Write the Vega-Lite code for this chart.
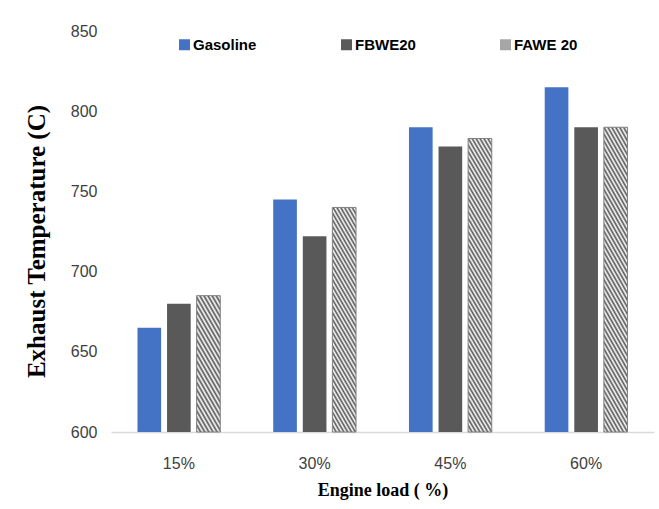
{
  "$schema": "https://vega.github.io/schema/vega-lite/v6.json",
  "width": 543,
  "height": 401,
  "autosize": {"type": "none"},
  "padding": {"left": 111, "top": 31, "right": 5, "bottom": 77},
  "background": "white",
  "data": {
    "values": [
      {"load": "15%", "fuel": "Gasoline", "temp": 665},
      {"load": "15%", "fuel": "FBWE20", "temp": 680},
      {"load": "15%", "fuel": "FAWE 20", "temp": 685},
      {"load": "30%", "fuel": "Gasoline", "temp": 745},
      {"load": "30%", "fuel": "FBWE20", "temp": 722},
      {"load": "30%", "fuel": "FAWE 20", "temp": 740},
      {"load": "45%", "fuel": "Gasoline", "temp": 790},
      {"load": "45%", "fuel": "FBWE20", "temp": 778},
      {"load": "45%", "fuel": "FAWE 20", "temp": 783},
      {"load": "60%", "fuel": "Gasoline", "temp": 815},
      {"load": "60%", "fuel": "FBWE20", "temp": 790},
      {"load": "60%", "fuel": "FAWE 20", "temp": 790}
    ]
  },
  "encoding": {
    "x": {
      "field": "load",
      "type": "nominal",
      "sort": ["15%", "30%", "45%", "60%"],
      "scale": {"paddingInner": 0.39, "paddingOuter": 0.195},
      "axis": {
        "title": "Engine load ( %)",
        "labelAngle": 0,
        "ticks": false,
        "domainColor": "#D9D9D9",
        "domainWidth": 1.5,
        "labelFont": "Liberation Sans Narrow, Liberation Sans, sans-serif",
        "labelFontSize": 16,
        "labelColor": "#404040",
        "labelPadding": 23,
        "titleFont": "Liberation Serif",
        "titleFontSize": 18,
        "titleFontWeight": "bold",
        "titleColor": "#000000",
        "titleY": 58,
        "titleBaseline": "middle"
      }
    },
    "xOffset": {
      "field": "fuel",
      "type": "nominal",
      "scale": {"domain": ["Gasoline", "FBWE20", "FAWE 20"], "paddingInner": 0.2, "paddingOuter": 0}
    },
    "y": {
      "field": "temp",
      "type": "quantitative",
      "scale": {"domain": [600, 850], "zero": false, "nice": false},
      "axis": {
        "title": "Exhaust Temperature (C)",
        "values": [600, 650, 700, 750, 800, 850],
        "grid": false,
        "domain": false,
        "ticks": false,
        "labelFont": "Liberation Sans Narrow, Liberation Sans, sans-serif",
        "labelFontSize": 16,
        "labelColor": "#404040",
        "labelPadding": 14,
        "titleFont": "Liberation Serif",
        "titleFontSize": 25,
        "titleFontWeight": "bold",
        "titleColor": "#000000",
        "titleX": -75,
        "titleY": 210,
        "titleBaseline": "middle",
        "titleAlign": "center"
      }
    },
    "y2": {"datum": 600}
  },
  "layer": [
    {
      "transform": [{"filter": "datum.fuel !== 'FAWE 20'"}],
      "mark": {"type": "bar"},
      "encoding": {
        "color": {
          "field": "fuel",
          "type": "nominal",
          "scale": {"domain": ["Gasoline", "FBWE20", "FAWE 20"], "range": ["#4472C4", "#595959", "#A6A6A6"]},
          "legend": {
            "title": null,
            "orient": "none",
            "legendX": 66,
            "legendY": 6,
            "direction": "horizontal",
            "padding": 0,
            "symbolType": "square",
            "symbolSize": 121,
            "symbolStrokeWidth": 0,
            "labelFont": "Liberation Sans Narrow, Liberation Sans, sans-serif",
            "labelFontSize": 15,
            "labelFontWeight": "bold",
            "labelColor": "#000000",
            "labelOffset": 1,
            "columnPadding": 82,
            "encode": {
              "symbols": {
                "update": {
                  "fill": [
                    {"test": "datum.value === 'FAWE 20'", "value": {"gradient": "linear", "x1": 1, "y1": 0, "x2": -0.1832, "y2": 0.6831, "stops": [
                      {"offset": 0, "color": "#555"}, {"offset": 0.125, "color": "#fff"}, {"offset": 0.25, "color": "#555"}, {"offset": 0.375, "color": "#fff"},
                      {"offset": 0.5, "color": "#555"}, {"offset": 0.625, "color": "#fff"}, {"offset": 0.75, "color": "#555"}, {"offset": 0.875, "color": "#fff"},
                      {"offset": 1, "color": "#555"}]}},
                    {"scale": "color", "field": "value"}
                  ]
                }
              }
            }
          }
        }
      }
    },
    {
      "transform": [{"filter": "datum.fuel === 'FAWE 20' && datum.load === '15%'"}],
      "mark": {"type": "bar", "stroke": "#808080", "strokeWidth": 1,
        "fill": {"gradient": "linear", "x1": 1, "y1": 0, "x2": 0.6414, "y2": 1.1928, "stops": [
          {"offset": 0, "color": "#555"}, {"offset": 0.02, "color": "#fff"}, {"offset": 0.04, "color": "#555"}, {"offset": 0.06, "color": "#fff"},
          {"offset": 0.08, "color": "#555"}, {"offset": 0.1, "color": "#fff"}, {"offset": 0.12, "color": "#555"}, {"offset": 0.14, "color": "#fff"},
          {"offset": 0.16, "color": "#555"}, {"offset": 0.18, "color": "#fff"}, {"offset": 0.2, "color": "#555"}, {"offset": 0.22, "color": "#fff"},
          {"offset": 0.24, "color": "#555"}, {"offset": 0.26, "color": "#fff"}, {"offset": 0.28, "color": "#555"}, {"offset": 0.3, "color": "#fff"},
          {"offset": 0.32, "color": "#555"}, {"offset": 0.34, "color": "#fff"}, {"offset": 0.36, "color": "#555"}, {"offset": 0.38, "color": "#fff"},
          {"offset": 0.4, "color": "#555"}, {"offset": 0.42, "color": "#fff"}, {"offset": 0.44, "color": "#555"}, {"offset": 0.46, "color": "#fff"},
          {"offset": 0.48, "color": "#555"}, {"offset": 0.5, "color": "#fff"}, {"offset": 0.52, "color": "#555"}, {"offset": 0.54, "color": "#fff"},
          {"offset": 0.56, "color": "#555"}, {"offset": 0.58, "color": "#fff"}, {"offset": 0.6, "color": "#555"}, {"offset": 0.62, "color": "#fff"},
          {"offset": 0.64, "color": "#555"}, {"offset": 0.66, "color": "#fff"}, {"offset": 0.68, "color": "#555"}, {"offset": 0.7, "color": "#fff"},
          {"offset": 0.72, "color": "#555"}, {"offset": 0.74, "color": "#fff"}, {"offset": 0.76, "color": "#555"}, {"offset": 0.78, "color": "#fff"},
          {"offset": 0.8, "color": "#555"}, {"offset": 0.82, "color": "#fff"}, {"offset": 0.84, "color": "#555"}, {"offset": 0.86, "color": "#fff"},
          {"offset": 0.88, "color": "#555"}, {"offset": 0.9, "color": "#fff"}, {"offset": 0.92, "color": "#555"}, {"offset": 0.94, "color": "#fff"},
          {"offset": 0.96, "color": "#555"}, {"offset": 0.98, "color": "#fff"}, {"offset": 1, "color": "#555"}]}}
    },
    {
      "transform": [{"filter": "datum.fuel === 'FAWE 20' && datum.load === '30%'"}],
      "mark": {"type": "bar", "stroke": "#808080", "strokeWidth": 1,
        "fill": {"gradient": "linear", "x1": 1, "y1": 0, "x2": 0.7912, "y2": 1.1443, "stops": [
          {"offset": 0, "color": "#555"}, {"offset": 0.0125, "color": "#fff"}, {"offset": 0.025, "color": "#555"}, {"offset": 0.0375, "color": "#fff"},
          {"offset": 0.05, "color": "#555"}, {"offset": 0.0625, "color": "#fff"}, {"offset": 0.075, "color": "#555"}, {"offset": 0.0875, "color": "#fff"},
          {"offset": 0.1, "color": "#555"}, {"offset": 0.1125, "color": "#fff"}, {"offset": 0.125, "color": "#555"}, {"offset": 0.1375, "color": "#fff"},
          {"offset": 0.15, "color": "#555"}, {"offset": 0.1625, "color": "#fff"}, {"offset": 0.175, "color": "#555"}, {"offset": 0.1875, "color": "#fff"},
          {"offset": 0.2, "color": "#555"}, {"offset": 0.2125, "color": "#fff"}, {"offset": 0.225, "color": "#555"}, {"offset": 0.2375, "color": "#fff"},
          {"offset": 0.25, "color": "#555"}, {"offset": 0.2625, "color": "#fff"}, {"offset": 0.275, "color": "#555"}, {"offset": 0.2875, "color": "#fff"},
          {"offset": 0.3, "color": "#555"}, {"offset": 0.3125, "color": "#fff"}, {"offset": 0.325, "color": "#555"}, {"offset": 0.3375, "color": "#fff"},
          {"offset": 0.35, "color": "#555"}, {"offset": 0.3625, "color": "#fff"}, {"offset": 0.375, "color": "#555"}, {"offset": 0.3875, "color": "#fff"},
          {"offset": 0.4, "color": "#555"}, {"offset": 0.4125, "color": "#fff"}, {"offset": 0.425, "color": "#555"}, {"offset": 0.4375, "color": "#fff"},
          {"offset": 0.45, "color": "#555"}, {"offset": 0.4625, "color": "#fff"}, {"offset": 0.475, "color": "#555"}, {"offset": 0.4875, "color": "#fff"},
          {"offset": 0.5, "color": "#555"}, {"offset": 0.5125, "color": "#fff"}, {"offset": 0.525, "color": "#555"}, {"offset": 0.5375, "color": "#fff"},
          {"offset": 0.55, "color": "#555"}, {"offset": 0.5625, "color": "#fff"}, {"offset": 0.575, "color": "#555"}, {"offset": 0.5875, "color": "#fff"},
          {"offset": 0.6, "color": "#555"}, {"offset": 0.6125, "color": "#fff"}, {"offset": 0.625, "color": "#555"}, {"offset": 0.6375, "color": "#fff"},
          {"offset": 0.65, "color": "#555"}, {"offset": 0.6625, "color": "#fff"}, {"offset": 0.675, "color": "#555"}, {"offset": 0.6875, "color": "#fff"},
          {"offset": 0.7, "color": "#555"}, {"offset": 0.7125, "color": "#fff"}, {"offset": 0.725, "color": "#555"}, {"offset": 0.7375, "color": "#fff"},
          {"offset": 0.75, "color": "#555"}, {"offset": 0.7625, "color": "#fff"}, {"offset": 0.775, "color": "#555"}, {"offset": 0.7875, "color": "#fff"},
          {"offset": 0.8, "color": "#555"}, {"offset": 0.8125, "color": "#fff"}, {"offset": 0.825, "color": "#555"}, {"offset": 0.8375, "color": "#fff"},
          {"offset": 0.85, "color": "#555"}, {"offset": 0.8625, "color": "#fff"}, {"offset": 0.875, "color": "#555"}, {"offset": 0.8875, "color": "#fff"},
          {"offset": 0.9, "color": "#555"}, {"offset": 0.9125, "color": "#fff"}, {"offset": 0.925, "color": "#555"}, {"offset": 0.9375, "color": "#fff"},
          {"offset": 0.95, "color": "#555"}, {"offset": 0.9625, "color": "#fff"}, {"offset": 0.975, "color": "#555"}, {"offset": 0.9875, "color": "#fff"},
          {"offset": 1, "color": "#555"}]}}
    },
    {
      "transform": [{"filter": "datum.fuel === 'FAWE 20' && (datum.load === '45%' || datum.load === '60%')"}],
      "mark": {"type": "bar", "stroke": "#808080", "strokeWidth": 1,
        "fill": {"gradient": "linear", "x1": 1, "y1": 0, "x2": 0.8471, "y2": 1.1160, "stops": [
          {"offset": 0, "color": "#555"}, {"offset": 0.01, "color": "#fff"}, {"offset": 0.02, "color": "#555"}, {"offset": 0.03, "color": "#fff"},
          {"offset": 0.04, "color": "#555"}, {"offset": 0.05, "color": "#fff"}, {"offset": 0.06, "color": "#555"}, {"offset": 0.07, "color": "#fff"},
          {"offset": 0.08, "color": "#555"}, {"offset": 0.09, "color": "#fff"}, {"offset": 0.1, "color": "#555"}, {"offset": 0.11, "color": "#fff"},
          {"offset": 0.12, "color": "#555"}, {"offset": 0.13, "color": "#fff"}, {"offset": 0.14, "color": "#555"}, {"offset": 0.15, "color": "#fff"},
          {"offset": 0.16, "color": "#555"}, {"offset": 0.17, "color": "#fff"}, {"offset": 0.18, "color": "#555"}, {"offset": 0.19, "color": "#fff"},
          {"offset": 0.2, "color": "#555"}, {"offset": 0.21, "color": "#fff"}, {"offset": 0.22, "color": "#555"}, {"offset": 0.23, "color": "#fff"},
          {"offset": 0.24, "color": "#555"}, {"offset": 0.25, "color": "#fff"}, {"offset": 0.26, "color": "#555"}, {"offset": 0.27, "color": "#fff"},
          {"offset": 0.28, "color": "#555"}, {"offset": 0.29, "color": "#fff"}, {"offset": 0.3, "color": "#555"}, {"offset": 0.31, "color": "#fff"},
          {"offset": 0.32, "color": "#555"}, {"offset": 0.33, "color": "#fff"}, {"offset": 0.34, "color": "#555"}, {"offset": 0.35, "color": "#fff"},
          {"offset": 0.36, "color": "#555"}, {"offset": 0.37, "color": "#fff"}, {"offset": 0.38, "color": "#555"}, {"offset": 0.39, "color": "#fff"},
          {"offset": 0.4, "color": "#555"}, {"offset": 0.41, "color": "#fff"}, {"offset": 0.42, "color": "#555"}, {"offset": 0.43, "color": "#fff"},
          {"offset": 0.44, "color": "#555"}, {"offset": 0.45, "color": "#fff"}, {"offset": 0.46, "color": "#555"}, {"offset": 0.47, "color": "#fff"},
          {"offset": 0.48, "color": "#555"}, {"offset": 0.49, "color": "#fff"}, {"offset": 0.5, "color": "#555"}, {"offset": 0.51, "color": "#fff"},
          {"offset": 0.52, "color": "#555"}, {"offset": 0.53, "color": "#fff"}, {"offset": 0.54, "color": "#555"}, {"offset": 0.55, "color": "#fff"},
          {"offset": 0.56, "color": "#555"}, {"offset": 0.57, "color": "#fff"}, {"offset": 0.58, "color": "#555"}, {"offset": 0.59, "color": "#fff"},
          {"offset": 0.6, "color": "#555"}, {"offset": 0.61, "color": "#fff"}, {"offset": 0.62, "color": "#555"}, {"offset": 0.63, "color": "#fff"},
          {"offset": 0.64, "color": "#555"}, {"offset": 0.65, "color": "#fff"}, {"offset": 0.66, "color": "#555"}, {"offset": 0.67, "color": "#fff"},
          {"offset": 0.68, "color": "#555"}, {"offset": 0.69, "color": "#fff"}, {"offset": 0.7, "color": "#555"}, {"offset": 0.71, "color": "#fff"},
          {"offset": 0.72, "color": "#555"}, {"offset": 0.73, "color": "#fff"}, {"offset": 0.74, "color": "#555"}, {"offset": 0.75, "color": "#fff"},
          {"offset": 0.76, "color": "#555"}, {"offset": 0.77, "color": "#fff"}, {"offset": 0.78, "color": "#555"}, {"offset": 0.79, "color": "#fff"},
          {"offset": 0.8, "color": "#555"}, {"offset": 0.81, "color": "#fff"}, {"offset": 0.82, "color": "#555"}, {"offset": 0.83, "color": "#fff"},
          {"offset": 0.84, "color": "#555"}, {"offset": 0.85, "color": "#fff"}, {"offset": 0.86, "color": "#555"}, {"offset": 0.87, "color": "#fff"},
          {"offset": 0.88, "color": "#555"}, {"offset": 0.89, "color": "#fff"}, {"offset": 0.9, "color": "#555"}, {"offset": 0.91, "color": "#fff"},
          {"offset": 0.92, "color": "#555"}, {"offset": 0.93, "color": "#fff"}, {"offset": 0.94, "color": "#555"}, {"offset": 0.95, "color": "#fff"},
          {"offset": 0.96, "color": "#555"}, {"offset": 0.97, "color": "#fff"}, {"offset": 0.98, "color": "#555"}, {"offset": 0.99, "color": "#fff"},
          {"offset": 1, "color": "#555"}]}}
    }
  ],
  "config": {
    "view": {"stroke": null}
  }
}
